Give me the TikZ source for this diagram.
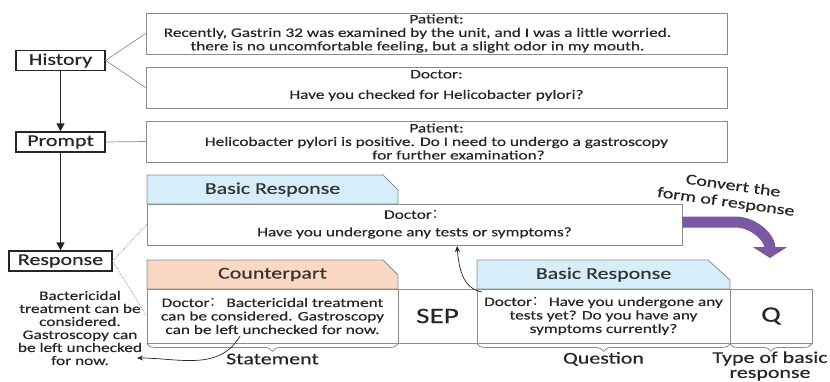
\documentclass[tikz,border=0pt]{standalone}
\usepackage{fontspec}
\setmainfont{Carlito}[FakeStretch=1.33,FakeBold=0.4]
\newfontfamily\cjk{Noto Sans CJK SC}
\usetikzlibrary{arrows.meta,decorations.pathreplacing,positioning}

\definecolor{tabblue}{RGB}{213,238,250}
\definecolor{tabpeach}{RGB}{250,216,196}
\definecolor{boxgray}{RGB}{140,140,140}
\definecolor{turnpurple}{RGB}{122,88,164}

\newcommand{\dcolon}{{\cjk ：}}

\tikzset{
  stage/.style={draw=black!85, line width=1.3pt, inner sep=1pt, minimum height=20pt,
    text=black!85, font=\fontsize{16.5}{18}\selectfont},
  utter/.style={draw=boxgray, line width=0.8pt, minimum width=581pt, minimum height=41pt, inner sep=0pt},
  saying/.style={align=center, inner sep=0pt, text=black!85, font=\fontsize{13}{13.5}\selectfont},
  cell/.style={draw=boxgray, line width=0.8pt, minimum height=54pt, inner sep=0pt, align=center,
    text=black!85, font=\fontsize{13}{13.5}\selectfont},
  tabedge/.style={draw=boxgray, line width=0.8pt},
  tabtitle/.style={text=black!80, font=\fontsize{16.5}{18}\selectfont},
  caption/.style={text=black!85, align=center, font=\fontsize{16.5}{15}\selectfont},
  flow/.style={line width=1.3pt, black!85, -{Triangle[width=8pt,length=8pt]}},
  link/.style={boxgray, line width=0.7pt},
  dotlink/.style={boxgray, line width=0.7pt, densely dotted},
  thinarrow/.style={black!85, line width=0.7pt, -{Stealth[length=6pt,width=5pt]}},
  span/.style={boxgray, line width=0.8pt, decorate, decoration={brace, mirror, amplitude=8pt}},
  turn/.style={turnpurple, line width=11pt, -{Triangle[width=34pt,length=11pt]}},
  turnnote/.style={text=black!85, inner sep=0pt, align=center, font=\fontsize{15}{17}\selectfont}
}

\begin{document}
\begin{tikzpicture}[x=1pt,y=1pt]
  \useasboundingbox (0,0) rectangle (830,-381);

  % Stages on the left
  \node[stage, minimum width=89pt] (history) at (60.5,-60.5) {History};
  \node[stage, minimum width=89pt] (prompt) at (60.5,-142) {Prompt};
  \node[stage, minimum width=103pt] (response) at (60.5,-261) {Response};
  \draw[flow] (history) -- (prompt);
  \draw[flow] (prompt) -- (response);

  % Dialogue history and prompt
  \node[utter] (pat1) at (436.5,-33.5) {};
  \node[saying] (pat1text) at ([xshift=-19pt]pat1.center)
    {\hspace*{38pt}Patient:\\Recently, Gastrin 32 was examined by the unit, and I was a little worried.\\there is no uncomfortable feeling, but a slight odor in my mouth.};
  \node[utter] (doc1) at (436.5,-87.5) {};
  \node[saying] (doc1text) at ([yshift=2pt]doc1.center)
    {Doctor:\\[7pt]Have you checked for Helicobacter pylori?};
  \node[utter] (pat2) at (436.5,-141.5) {};
  \node[saying] (pat2text) at (pat2.center)
    {Patient:\\Helicobacter pylori is positive. Do I need to undergo a gastroscopy\\\hspace*{44pt}for further examination?};
  \draw[link] (history.east) -- (pat1.west);
  \draw[link] (history.east) -- (doc1.west);
  \draw[link] (prompt.east) -- (pat2.west);

  % Basic response
  \draw[tabedge, fill=tabblue] (147,-204) -- (147,-175) -- (383,-175) -- (398,-190) -- (398,-204) -- cycle;
  \node[tabtitle] (basictitle) at (272.5,-189.5) {Basic Response};
  \node[cell, minimum width=535pt, minimum height=41pt] (doc2) at (414.5,-224.5)
    {Doctor\dcolon\\[4pt]Have you undergone any tests or symptoms?};

  % Converted response
  \draw[tabedge, fill=tabpeach] (147,-289) -- (147,-260) -- (383,-260) -- (398,-275) -- (398,-289) -- cycle;
  \node[tabtitle] (cptitle) at (272.5,-274.5) {Counterpart};
  \draw[tabedge, fill=tabblue] (477,-289) -- (477,-260) -- (708,-260) -- (730,-280) -- (730,-289) -- cycle;
  \node[tabtitle] (qstitle) at (603.5,-274.5) {Basic Response};
  \node[cell, minimum width=251pt] (cp) at (272.5,-316)
    {Doctor\dcolon\ Bactericidal treatment\\can be considered. Gastroscopy\\can be left unchecked for now.};
  \node[cell, minimum width=79pt, font=\fontsize{22}{24}\selectfont] (sep) at (437.5,-316) {SEP};
  \node[cell, minimum width=253pt] (qs) at (603.5,-316)
    {Doctor\dcolon\ Have you undergone any\\tests yet? Do you have any\\symptoms currently?};
  \node[cell, minimum width=82pt, font=\fontsize{22}{24}\selectfont] (qtype) at (771,-316) {Q};
  \draw[dotlink] (response.east) -- (doc2.west);
  \draw[dotlink] (response.east) -- (cp.west);

  % Braces and captions
  \draw[span] (cp.south west) -- (cp.south east);
  \draw[span] (qs.south west) -- (qs.south east);
  \draw[span] (qtype.south west) -- (qtype.south east);
  \node[caption] (stmt) at (272.5,-359) {Statement};
  \node[caption] (quest) at (603.5,-359) {Question};
  \node[caption] (kind) at (770,-366) {Type of basic\\response};

  % Counterpart text
  \node[align=center, text=black!85, font=\fontsize{13}{13}\selectfont] (bact) at (80,-328)
    {Bactericidal\\treatment can be\\considered.\\Gastroscopy can\\be left unchecked\\for now.};
  \coordinate (cpfrom) at (240,-336);
  \coordinate (bactto) at (137,-358);
  \draw[thinarrow] (cpfrom) to[out=-120,in=0] (bactto);
  \coordinate (qsfrom) at (482,-292);
  \coordinate (qsto) at (457,-246);
  \draw[thinarrow] (qsfrom) to[out=170,in=-85] (qsto);

  % Conversion arrow
  \coordinate (turnend) at (770,-258);
  \draw[turn] ([yshift=2.5pt]doc2.east) -- (735,-222) to[out=0,in=90] (turnend);
  \node[turnnote, rotate=-8] (convert) at (727,-194) {\hspace*{10pt}Convert the\\form of response};
\end{tikzpicture}
\end{document}
